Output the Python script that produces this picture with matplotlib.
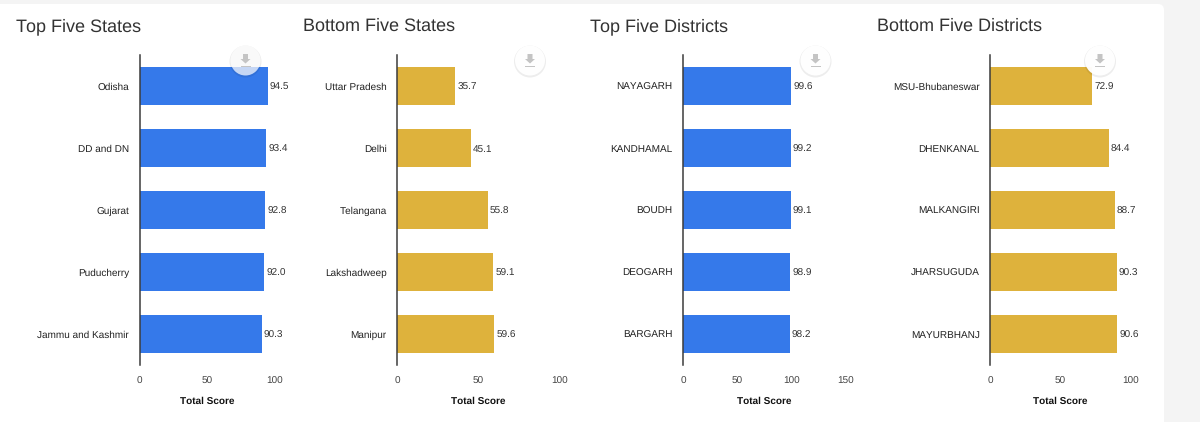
#!/usr/bin/env python3
# -*- coding: utf-8 -*-
import matplotlib
matplotlib.use("Agg")
import matplotlib.pyplot as plt
from matplotlib.patches import Circle, FancyBboxPatch, Polygon, Rectangle

plt.rcParams['font.family'] = ['Liberation Sans', 'DejaVu Sans']
plt.rcParams['text.hinting'] = 'none'
plt.rcParams['text.hinting_factor'] = 1

W, H = 1200, 422
BLUE = '#3579ea'
GOLD = '#deb23c'

top_states = ['Odisha', 'DD and DN', 'Gujarat', 'Puducherry', 'Jammu and Kashmir']
top_states_vals = [94.5, 93.4, 92.8, 92.0, 90.3]
bottom_states = ['Uttar Pradesh', 'Delhi', 'Telangana', 'Lakshadweep', 'Manipur']
bottom_states_vals = [35.7, 45.1, 55.8, 59.1, 59.6]
top_districts = ['NAYAGARH', 'KANDHAMAL', 'BOUDH', 'DEOGARH', 'BARGARH']
top_districts_vals = [99.6, 99.2, 99.1, 98.9, 98.2]
bottom_districts = ['MSU-Bhubaneswar', 'DHENKANAL', 'MALKANGIRI', 'JHARSUGUDA', 'MAYURBHANJ']
bottom_districts_vals = [72.9, 84.4, 88.7, 90.3, 90.6]

titles = ['Top Five States', 'Bottom Five States', 'Top Five Districts', 'Bottom Five Districts']
title_x = [16, 303, 590, 877]
names = [top_states, bottom_states, top_districts, bottom_districts]
values = [top_states_vals, bottom_states_vals, top_districts_vals, bottom_districts_vals]
colors = [BLUE, GOLD, BLUE, GOLD]
# left edge / right edge of each plot in pixels, and the axis maximum
axis_left = [139.5, 397, 683, 990]
axis_right = [275, 560, 846, 1130.5]
axis_max = [100, 100, 150, 100]
ticks = [[0, 50, 100], [0, 50, 100], [0, 50, 100, 150], [0, 50, 100]]
button_x = [245.5, 530, 815.5, 1100]


def fx(px):
    return px / W


def fy(py):
    return 1 - py / H


fig = plt.figure(figsize=(W / 100, H / 100), dpi=100, facecolor='#f4f4f4')

# white card behind the charts
fig.add_artist(FancyBboxPatch((-10, -10), 1174, H - 4 + 10, boxstyle='round,pad=0,rounding_size=6',
                              transform=None, fc='white', ec='none', zorder=-5))

for i in range(4):
    ax = fig.add_axes([fx(axis_left[i]), fy(365), fx(axis_right[i] - axis_left[i]), 310 / H])
    ax.patch.set_alpha(0)
    bars = ax.barh(names[i], values[i], height=0.61, color=colors[i], zorder=2)
    ax.set_ylim(4.5, -0.5)
    ax.set_xlim(0, axis_max[i])
    ax.set_xticks(ticks[i])
    for s in ['top', 'right', 'bottom']:
        ax.spines[s].set_visible(False)
    ax.spines['left'].set_color('#3c3c3c')
    ax.spines['left'].set_linewidth(1.1)
    ax.spines['left'].set_zorder(3)
    ax.tick_params(axis='y', length=0, pad=7.5, labelsize=6.85, labelcolor='#222222')
    ax.tick_params(axis='x', length=0, pad=8.5, labelsize=7.0, labelcolor='#444444')
    labs = ax.bar_label(bars, labels=['%.1f' % v for v in values[i]], padding=1.5,
                        fontsize=7.0, color='#333333')
    for lab in labs:
        lab.xyann = (1.5, -1.0)
    fig.text(fx((axis_left[i] + axis_right[i]) / 2), fy(401), 'Total Score', ha='center',
             va='center', fontsize=7.15, fontweight='bold', color='#111111')
    fig.text(fx(title_x[i]), fy(31), titles[i], ha='left', va='baseline', fontsize=13.2,
             color='#333333')

    # download button sitting over the plot
    bx, by = button_x[i], H - 60.5
    fig.add_artist(Circle((bx, by - 1), 16, transform=None, fc='#000000', alpha=0.07, ec='none', zorder=8))
    fig.add_artist(Circle((bx, by), 15, transform=None, fc='white', alpha=0.72 if i == 0 else 0.97,
                          ec='none', zorder=9))
    fig.add_artist(Polygon([(bx - 2.5, by + 6.5), (bx + 2.5, by + 6.5), (bx + 2.5, by + 1.5), (bx + 5, by + 1.5),
                            (bx, by - 3), (bx - 5, by + 1.5), (bx - 2.5, by + 1.5)],
                           transform=None, fc='#c4c4c4', ec='none', zorder=10))
    fig.add_artist(Rectangle((bx - 5, by - 6.5), 10, 1.2, transform=None, fc='#c4c4c4', ec='none', zorder=10))

fig.savefig('out.png', dpi=100, facecolor=fig.get_facecolor())
